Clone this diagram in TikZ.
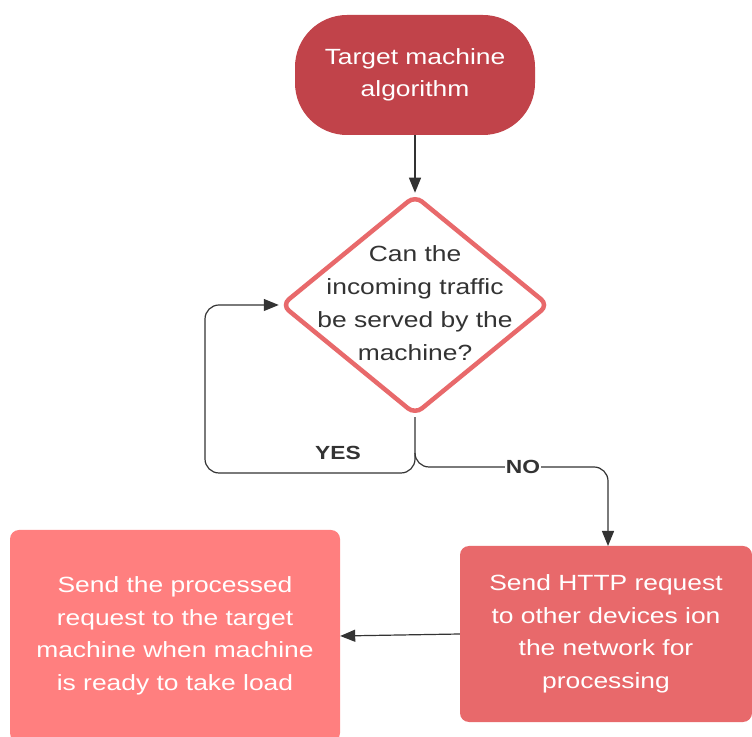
\documentclass[tikz,border=0pt]{standalone}
\usepackage{fontspec}
\setmainfont{Liberation Sans}[FakeStretch=1.2]
\usetikzlibrary{shapes.geometric,arrows.meta}
\definecolor{startred}{HTML}{C1434A}
\definecolor{decred}{HTML}{E8696B}
\definecolor{procred}{HTML}{E8696B}
\definecolor{lightred}{HTML}{FF7F7F}
\definecolor{inkgray}{HTML}{333333}
\tikzset{
  x=1pt, y=1pt,
  boxtext/.style={font=\fontsize{22}{32.5}\selectfont, text=white, align=center},
  startbox/.style={rectangle, rounded corners=52pt, fill=startred, minimum width=240pt, minimum height=120pt, boxtext},
  decbox/.style={diamond, draw=decred, line width=4.5pt, fill=white, rounded corners=9pt, minimum width=268pt, minimum height=220pt, inner sep=0pt},
  procbox/.style={rectangle, rounded corners=9pt, minimum width=292pt, minimum height=176pt, boxtext},
  link/.style={draw=inkgray, line width=1.2pt, -{Triangle[length=15pt,width=12pt]}},
  flowlabel/.style={font=\fontsize{19}{22}\selectfont\bfseries, text=inkgray}
}
\begin{document}
\begin{tikzpicture}
\useasboundingbox (0,0) rectangle (752,736);
\clip (0,0) rectangle (752,736);

% nodes
\node[startbox] (start) at (415,661) {Target machine\\algorithm};
\node[decbox] (dec) at (415,431) {};
\node[font=\fontsize{22}{33}\selectfont, text=inkgray, align=center] (dectext) at (415,433)
  {Can the\\incoming traffic\\be served by the\\machine?};
\node[procbox, fill=procred] (send) at (606,102)
  {Send HTTP request\\to other devices ion\\the network for\\processing};
\node[procbox, fill=lightred, minimum width=330pt, minimum height=212pt] (deliver) at (175,100)
  {Send the processed\\request to the target\\machine when machine\\is ready to take load};

% connectors
\draw[link] (start.south) -- (dec.north);
\coordinate (yesturn) at (415,263);
\coordinate (yesleft) at (205,263);
\coordinate (yesup) at (205,431);
\draw[link, rounded corners=14pt] (dec.south) -- (yesturn) -- (yesleft) -- (yesup) -- (dec.west);
\coordinate (nosplit) at (415,283);
\coordinate (noright) at (608,269);
\coordinate (nodown) at (608,190);
\draw[link, rounded corners=14pt] (nosplit) -- (415,269) -- (noright) -- (nodown);
\node[flowlabel, fill=white, inner sep=1pt] (nolabel) at (523,269) {NO};
\node[flowlabel] (yeslabel) at (338,283) {YES};
\draw[link] (send.west) -- (deliver.east);
\end{tikzpicture}
\end{document}
